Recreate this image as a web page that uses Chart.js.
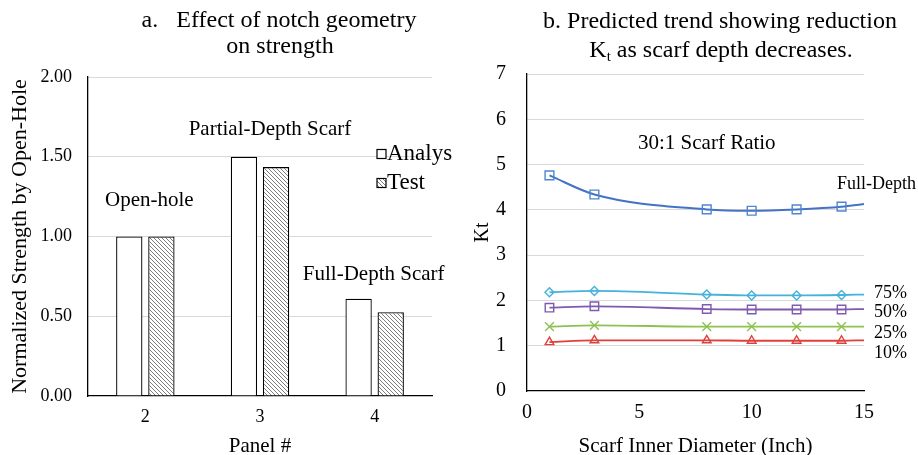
<!DOCTYPE html>
<html>
<head>
<meta charset="utf-8">
<title>Notch geometry and scarf Kt</title>
<script src="https://cdn.jsdelivr.net/npm/chart.js@4.4.1/dist/chart.umd.min.js"></script>
<style>
  html, body { margin: 0; padding: 0; background: #fff; }
  #wrap { position: relative; width: 918px; height: 455px; overflow: hidden; }
  #left { position: absolute; left: 0; top: 0; }
  #right { position: absolute; left: 460px; top: 0; }
</style>
</head>
<body>
<div id="wrap">
  <canvas id="left" width="460" height="455"></canvas>
  <canvas id="right" width="458" height="455"></canvas>
</div>
<script>
// ---- Panel a: normalized strength by notch type ----
const panels = ['2', '3', '4'];
const analysValues = [1.00, 1.50, 0.61];
const testValues = [1.00, 1.435, 0.525];
const strengthTicks = [0, 0.5, 1.0, 1.5, 2.0];
const notchLabels = ['Open-hole', 'Partial-Depth Scarf', 'Full-Depth Scarf'];

// ---- Panel b: Kt versus scarf inner diameter ----
const diameters = [1, 3, 8, 10, 12, 14, 15];
const ktFullDepth = [4.76, 4.34, 4.01, 3.98, 4.01, 4.07, 4.13];
const kt75 = [2.18, 2.21, 2.13, 2.11, 2.11, 2.12, 2.13];
const kt50 = [1.84, 1.87, 1.81, 1.80, 1.80, 1.80, 1.81];
const kt25 = [1.42, 1.45, 1.42, 1.42, 1.42, 1.42, 1.42];
const kt10 = [1.08, 1.12, 1.12, 1.11, 1.11, 1.11, 1.12];
const depthLabels = ['Full-Depth', '75%', '50%', '25%', '10%'];
const ktTicks = [0, 1, 2, 3, 4, 5, 6, 7];
const diameterTicks = [0, 5, 10, 15];

// ---- text placement (axis units) ----
const notchLabelPlace = [
  { value: 1.225, dx: 4 },
  { value: 1.67, dx: 10 },
  { value: 0.76, dx: -1 }
];
const depthLabelPlace = [
  { x: 13.8, y: 4.57 },
  { x: 15.45, y: 2.16 },
  { x: 15.45, y: 1.74 },
  { x: 15.45, y: 1.28 },
  { x: 15.45, y: 0.84 }
];

const serif = "'Liberation Serif','Times New Roman',serif";
Chart.defaults.font.family = serif;
Chart.defaults.color = '#000';

function drawText(ctx, text, x, y, size, align) {
  ctx.save();
  ctx.font = size + 'px ' + serif;
  ctx.fillStyle = '#000';
  ctx.textAlign = align || 'center';
  ctx.textBaseline = 'middle';
  ctx.fillText(text, x, y);
  ctx.restore();
}

// fine diagonal hatch for the test bars
function makeHatch(ctx) {
  const c = document.createElement('canvas');
  c.width = 4; c.height = 4;
  const g = c.getContext('2d');
  g.fillStyle = '#fff';
  g.fillRect(0, 0, 4, 4);
  g.strokeStyle = '#6e6e6e';
  g.lineWidth = 0.9;
  g.beginPath();
  g.moveTo(-1, -1); g.lineTo(5, 5);
  g.moveTo(-1, 3); g.lineTo(1, 5);
  g.moveTo(3, -1); g.lineTo(5, 1);
  g.stroke();
  return ctx.createPattern(c, 'repeat');
}

const gridColor = (c) => (c.tick && c.tick.value === 0) ? 'rgba(0,0,0,0)' : '#d9d9d9';

// ---------- left chart ----------
const leftCanvas = document.getElementById('left');
const hatch = makeHatch(leftCanvas.getContext('2d'));

const leftDecor = {
  id: 'leftDecor',
  afterDraw(chart) {
    const ctx = chart.ctx;
    const { x, y } = chart.scales;
    const area = chart.chartArea;
    // title
    drawText(ctx, 'a.   Effect of notch geometry', 279, 21, 24);
    drawText(ctx, 'on strength', 280, 47, 24);
    // group labels
    notchLabels.forEach((t, i) => {
      const p = notchLabelPlace[i];
      drawText(ctx, t, x.getPixelForValue(i) + p.dx, y.getPixelForValue(p.value), 21);
    });
    // legend
    const items = chart.data.datasets;
    items.forEach((ds, i) => {
      const cy = area.top + 77 + i * 29;
      const bx = area.right - 55;
      ctx.save();
      ctx.fillStyle = ds.backgroundColor;
      ctx.fillRect(bx, cy - 4.5, 9, 9);
      ctx.strokeStyle = '#000';
      ctx.lineWidth = 1.2;
      ctx.strokeRect(bx, cy - 4.5, 9, 9);
      ctx.restore();
      drawText(ctx, ds.label, bx + 10, cy, 23, 'left');
    });
  }
};

new Chart(leftCanvas, {
  type: 'bar',
  data: {
    labels: panels,
    datasets: [
      { label: 'Analys', data: analysValues, backgroundColor: '#fff', borderColor: '#000', borderWidth: 1.3,
        barPercentage: 0.82, categoryPercentage: 0.56 },
      { label: 'Test', data: testValues, backgroundColor: hatch, borderColor: '#000', borderWidth: 1.3,
        barPercentage: 0.82, categoryPercentage: 0.56 }
    ]
  },
  options: {
    responsive: false,
    animation: false,
    layout: { padding: { left: 0, top: 77, right: 28, bottom: 0 } },
    plugins: { legend: { display: false }, tooltip: { enabled: false } },
    scales: {
      x: {
        grid: { display: false, drawTicks: false },
        border: { color: '#000', width: 1.3 },
        ticks: { font: { size: 18 }, padding: 10, color: '#000' },
        title: { display: true, text: 'Panel #', color: '#000', font: { size: 21, lineHeight: 1 }, padding: { top: 0, bottom: -2 } },
        afterFit(s) { s.height = 59; }
      },
      y: {
        min: 0, max: 2,
        afterBuildTicks(s) { s.ticks = strengthTicks.map(v => ({ value: v })); },
        ticks: { font: { size: 18 }, padding: 16, color: '#000', callback: v => Number(v).toFixed(2) },
        grid: { color: gridColor, drawTicks: false },
        border: { color: '#000', width: 1.3 },
        title: { display: true, text: 'Normalized Strength by Open-Hole', color: '#000', font: { size: 22 }, padding: { top: 7, bottom: 0 } },
        afterFit(s) { s.width = 88; }
      }
    }
  },
  plugins: [leftDecor]
});

// ---------- right chart ----------
const rightCanvas = document.getElementById('right');

const rightDecor = {
  id: 'rightDecor',
  afterDraw(chart) {
    const ctx = chart.ctx;
    const { x, y } = chart.scales;
    drawText(ctx, 'b. Predicted trend showing reduction', 260, 22, 24);
    // second title line with subscript t
    const parts = [
      { t: 'K', s: 24, dy: 0 },
      { t: 't', s: 15, dy: 6 },
      { t: ' as scarf depth decreases.', s: 24, dy: 0 }
    ];
    ctx.save();
    let total = 0;
    parts.forEach(p => { ctx.font = p.s + 'px ' + serif; p.w = ctx.measureText(p.t).width; total += p.w; });
    ctx.restore();
    let cx = 261 - total / 2;
    parts.forEach(p => { drawText(ctx, p.t, cx, 51 + p.dy, p.s, 'left'); cx += p.w; });

    drawText(ctx, '30:1 Scarf Ratio', x.getPixelForValue(4.94), y.getPixelForValue(5.47), 21, 'left');
    depthLabels.forEach((t, i) => {
      const p = depthLabelPlace[i];
      drawText(ctx, t, x.getPixelForValue(p.x), y.getPixelForValue(p.y), 18, 'left');
    });
  }
};

const lastIdx = diameters.length - 1;
const markerSize = (r) => (c) => c.dataIndex === lastIdx ? 0 : r;
const toPoints = (vals) => diameters.map((d, i) => ({ x: d, y: vals[i] }));

function series(label, vals, color, marker, style, r, width) {
  return {
    label, data: toPoints(vals),
    borderColor: color, borderWidth: width,
    pointStyle: style, pointRadius: markerSize(r), pointHoverRadius: markerSize(r),
    pointBackgroundColor: 'rgba(255,255,255,0)', pointBorderColor: marker, pointBorderWidth: 1.4,
    cubicInterpolationMode: 'monotone', fill: false
  };
}

new Chart(rightCanvas, {
  type: 'line',
  data: {
    datasets: [
      series(depthLabels[0], ktFullDepth, '#4472c4', '#4f86d2', 'rect', 6.2, 2),
      series(depthLabels[1], kt75, '#45b2da', '#45b2da', 'rectRot', 4.5, 1.8),
      series(depthLabels[2], kt50, '#7f5aae', '#7f5aae', 'rect', 6, 1.8),
      series(depthLabels[3], kt25, '#8dc152', '#8dc152', 'crossRot', 6.2, 1.8),
      series(depthLabels[4], kt10, '#e0403c', '#e0403c', 'triangle', 5, 1.8)
    ]
  },
  options: {
    responsive: false,
    animation: false,
    layout: { padding: { left: 0, top: 74, right: 54, bottom: 0 } },
    plugins: { legend: { display: false }, tooltip: { enabled: false } },
    scales: {
      x: {
        type: 'linear', min: 0, max: 15,
        afterBuildTicks(s) { s.ticks = diameterTicks.map(v => ({ value: v })); },
        grid: { display: false, drawTicks: false },
        border: { color: '#000', width: 1.3 },
        ticks: { font: { size: 20 }, padding: 10, color: '#000' },
        title: { display: true, text: 'Scarf Inner Diameter (Inch)', color: '#000', font: { size: 21, lineHeight: 1 }, padding: { top: 0, bottom: -2 } },
        afterFit(s) { s.height = 64; }
      },
      y: {
        min: 0, max: 7,
        afterBuildTicks(s) { s.ticks = ktTicks.map(v => ({ value: v })); },
        ticks: { font: { size: 20 }, padding: 21, color: '#000' },
        grid: { color: gridColor, drawTicks: false },
        border: { color: '#000', width: 1.3 },
        title: { display: true, text: 'Kt', color: '#000', font: { size: 20 }, padding: { top: 11, bottom: 0 } },
        afterFit(s) { s.width = 67; }
      }
    }
  },
  plugins: [rightDecor]
});
</script>
</body>
</html>
